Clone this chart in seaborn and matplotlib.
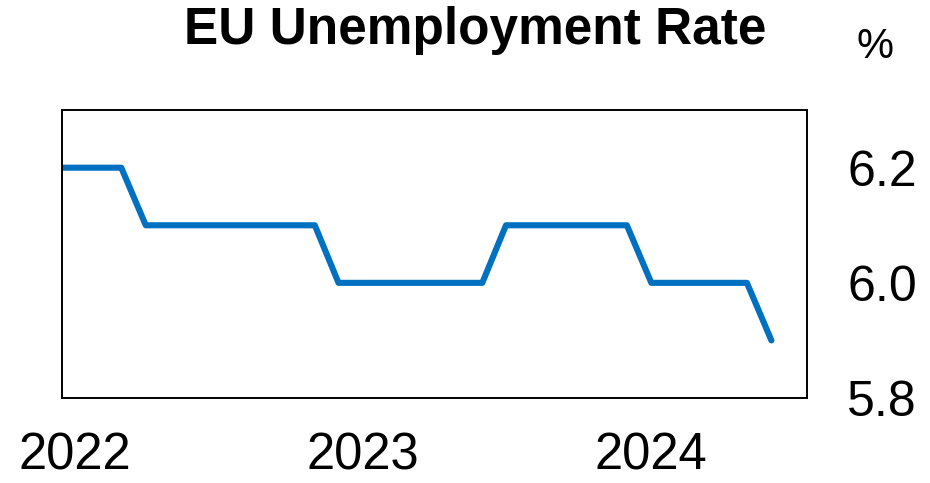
import matplotlib
matplotlib.use("Agg")
import matplotlib.pyplot as plt
import pandas as pd
import seaborn as sns

# Monthly EU unemployment rate, Dec 2021 - Jun 2024 (%)
months = pd.date_range("2021-12-01", "2024-06-01", freq="MS")
rate = [6.2,
        6.2, 6.2, 6.2, 6.1, 6.1, 6.1, 6.1, 6.1, 6.1, 6.1, 6.1, 6.0,
        6.0, 6.0, 6.0, 6.0, 6.0, 6.0, 6.1, 6.1, 6.1, 6.1, 6.1, 6.1,
        6.0, 6.0, 6.0, 6.0, 6.0, 5.9]
year_ticks = ["2022-01-01", "2023-01-01", "2024-01-01"]
year_labels = ["2022", "2023", "2024"]
y_ticks = [5.8, 6.0, 6.2]

df = pd.DataFrame({"month": months, "rate": rate})

sns.set_theme(style="white")
plt.rcParams["font.family"] = ["Liberation Sans", "DejaVu Sans"]
plt.rcParams["text.color"] = "black"
plt.rcParams["xtick.color"] = "black"
plt.rcParams["ytick.color"] = "black"

fig = plt.figure(figsize=(9.3, 4.83), dpi=100)
ax = fig.add_axes([0.0667, 0.176, 0.801, 0.596])

sns.lineplot(data=df, x="month", y="rate", ax=ax, color="#0070C0",
             linewidth=4.4, solid_capstyle="round", solid_joinstyle="round")

ax.set_xlim(pd.Timestamp("2021-12-16"), pd.Timestamp("2024-07-16"))
ax.set_ylim(5.8, 6.3)

ax.set_xticks([pd.Timestamp(t) for t in year_ticks])
ax.set_xticklabels(year_labels, fontsize=36.5, color="black")
ax.set_yticks(y_ticks)
ax.set_yticklabels([f"{v:.1f}" for v in y_ticks], fontsize=36, color="black")

ax.yaxis.tick_right()
ax.tick_params(axis="both", length=0)
ax.tick_params(axis="x", pad=24)
ax.tick_params(axis="y", pad=29)

ax.set_xlabel("")
ax.set_ylabel("")

for s in ax.spines.values():
    s.set_visible(True)
    s.set_color("black")
    s.set_linewidth(1.4)

fig.text(0.511, 0.909, "EU Unemployment Rate", ha="center", va="baseline",
         fontsize=37, fontweight="bold", color="black")
fig.text(0.941, 0.902, "%", ha="center", va="center", fontsize=30,
         color="black")

fig.savefig("out.png", dpi=100)
